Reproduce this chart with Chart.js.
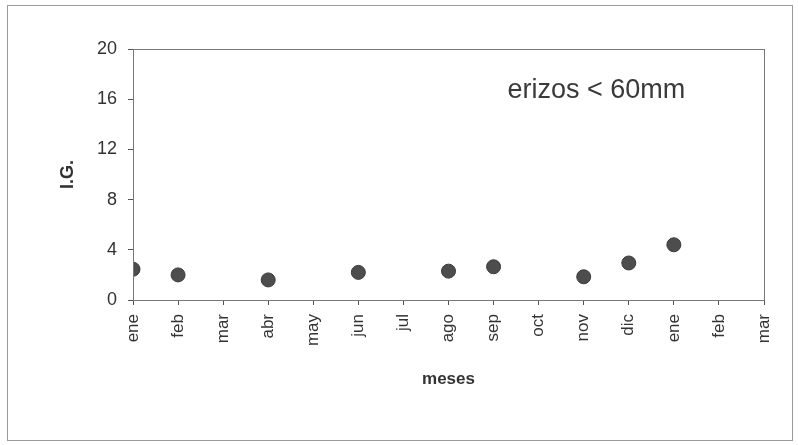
<!DOCTYPE html>
<html>
<head>
<meta charset="utf-8">
<script src="https://cdn.jsdelivr.net/npm/chart.js@4.4.1/dist/chart.umd.min.js"></script>
<style>
  html, body { margin: 0; padding: 0; background: #fff; }
  #wrap { position: relative; width: 798px; height: 445px; }
  #frame { position: absolute; left: 7px; top: 5px; width: 784px; height: 434px; border: 1px solid #9a9a9a; pointer-events: none; }
</style>
</head>
<body>
<div id="wrap">
  <canvas id="c" width="798" height="445"></canvas>
  <div id="frame"></div>
</div>
<script>
// meses del eje x (ene .. mar del año siguiente)
const MONTHS = ['ene','feb','mar','abr','may','jun','jul','ago','sep','oct','nov','dic','ene','feb','mar'];
// índice del mes con dato, y valor de I.G.
const SAMPLE_IDX = [0, 1, 3, 5, 7, 8, 10, 11, 12];
const IG_VALUES = [2.45, 2.0, 1.6, 2.2, 2.3, 2.65, 1.85, 2.95, 4.4];
const Y_TICKS = [0, 4, 8, 12, 16, 20];

const AXIS = '#555';
const TEXT = '#333';
const FONT = 'Arial, "Liberation Sans", sans-serif';

// caja completa alrededor del área de trazado + rótulo
const boxAndLabel = {
  id: 'boxAndLabel',
  afterDraw(chart) {
    const { ctx, chartArea: a, scales } = chart;
    ctx.save();
    ctx.strokeStyle = '#777';
    ctx.lineWidth = 1;
    ctx.strokeRect(a.left + 0.5, a.top + 0.5, a.right - a.left, a.bottom - a.top);
    ctx.font = '27px ' + FONT;
    ctx.fillStyle = '#3a3a3a';
    ctx.textAlign = 'center';
    ctx.textBaseline = 'middle';
    ctx.fillText('erizos < 60mm', scales.x.getPixelForValue(10.28), scales.y.getPixelForValue(16.7));
    ctx.restore();
  }
};

new Chart(document.getElementById('c'), {
  type: 'scatter',
  data: {
    datasets: [{
      data: SAMPLE_IDX.map((m, i) => ({ x: m, y: IG_VALUES[i] })),
      backgroundColor: '#4d4d4d',
      borderColor: '#3a3a3a',
      borderWidth: 1,
      pointRadius: 7
    }]
  },
  plugins: [boxAndLabel],
  options: {
    responsive: false,
    animation: false,
    layout: { padding: { left: 57, right: 34, top: 49, bottom: 53 } },
    plugins: { legend: { display: false }, tooltip: { enabled: false } },
    scales: {
      x: {
        type: 'linear',
        min: 0,
        max: MONTHS.length - 1,
        afterBuildTicks(scale) {
          scale.ticks = MONTHS.map((_, i) => ({ value: i }));
        },
        afterFit(scale) { scale.height = 92; },
        ticks: {
          callback: v => MONTHS[v],
          autoSkip: false,
          minRotation: 90,
          maxRotation: 90,
          color: TEXT,
          padding: 9,
          font: { family: FONT, size: 17 }
        },
        grid: { drawOnChartArea: false, drawTicks: true, tickLength: 5, color: AXIS },
        border: { display: true, color: AXIS, width: 1 },
        title: {
          display: true,
          text: 'meses',
          color: TEXT,
          padding: { top: 0, bottom: 2 },
          font: { family: FONT, size: 17, weight: 'bold' }
        }
      },
      y: {
        min: 0,
        max: 20,
        afterBuildTicks(scale) {
          scale.ticks = Y_TICKS.map(v => ({ value: v }));
        },
        afterFit(scale) { scale.width = 76; },
        ticks: {
          color: TEXT,
          padding: 11,
          font: { family: FONT, size: 18 }
        },
        grid: { drawOnChartArea: false, drawTicks: true, tickLength: 5, color: AXIS },
        border: { display: true, color: AXIS, width: 1 },
        title: {
          display: true,
          text: 'I.G.',
          color: TEXT,
          padding: { top: 0, bottom: 0 },
          font: { family: FONT, size: 18, weight: 'bold' }
        }
      }
    }
  }
});
</script>
</body>
</html>
